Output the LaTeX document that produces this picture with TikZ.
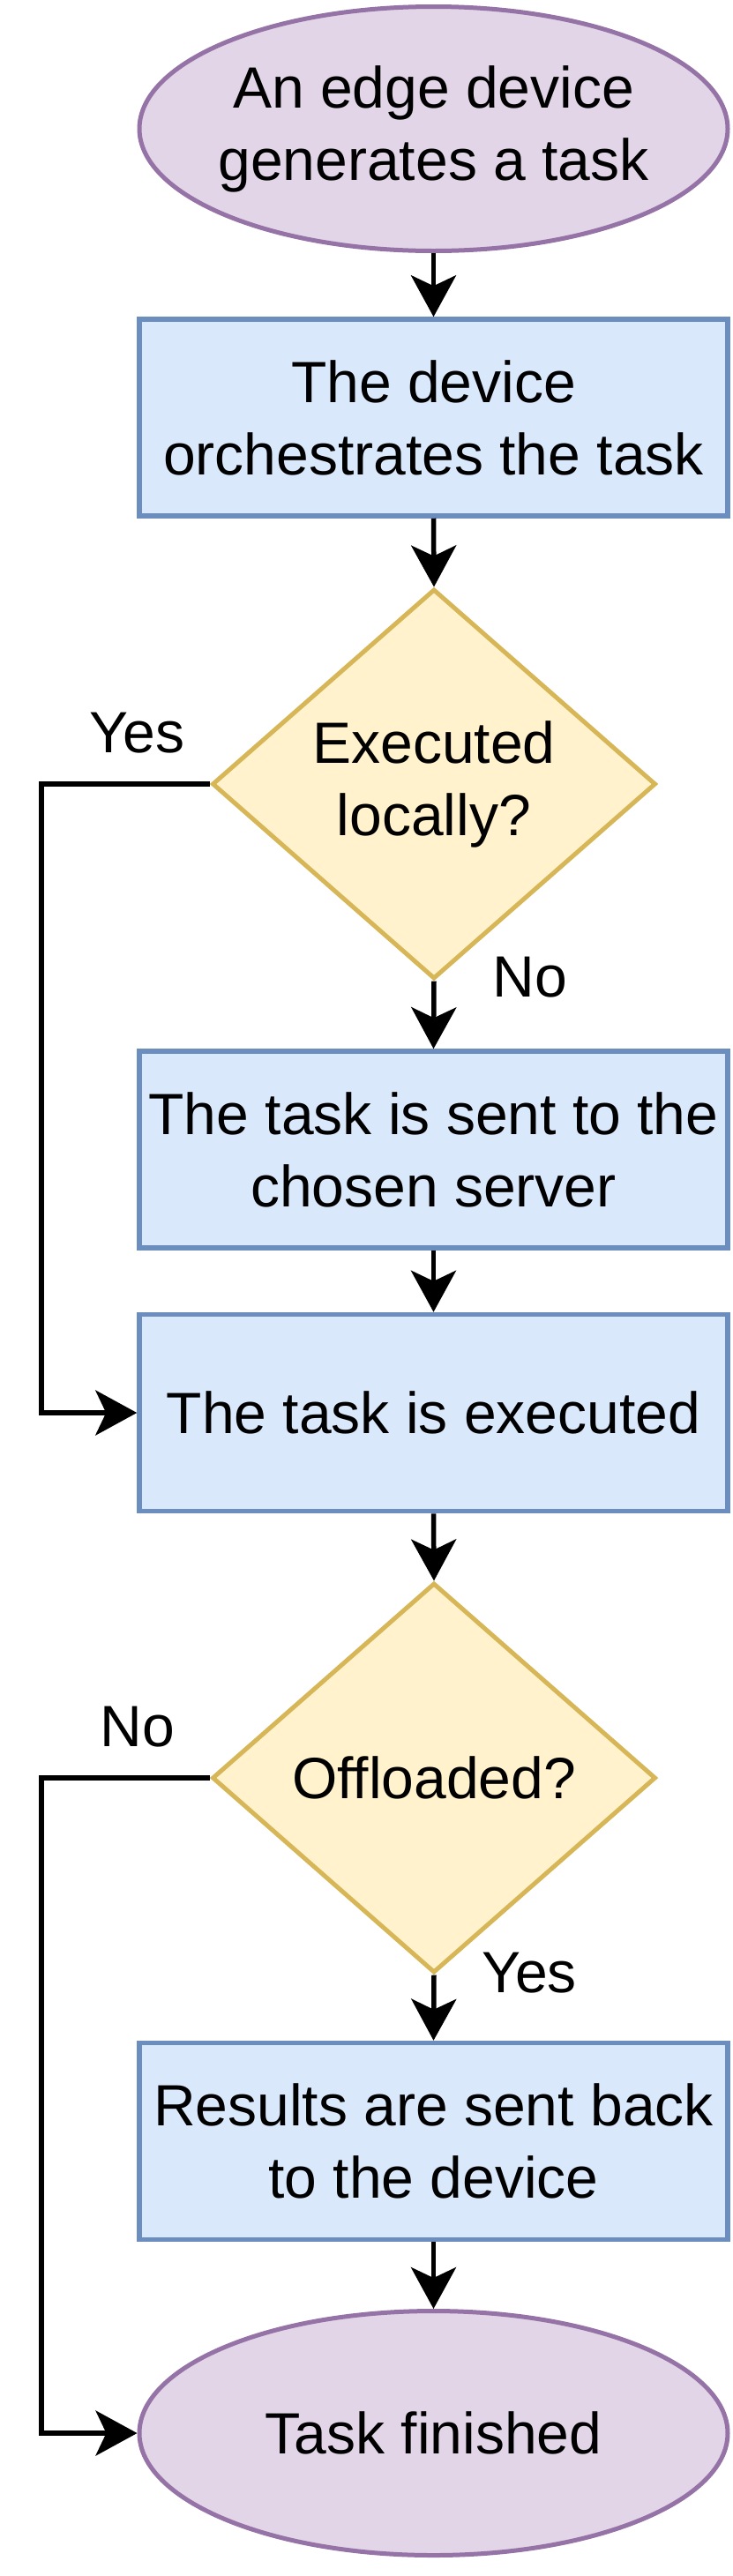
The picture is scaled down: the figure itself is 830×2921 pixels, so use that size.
\documentclass[tikz,border=0pt]{standalone}
\usepackage{fontspec}
\setmainfont{Liberation Sans}
\usetikzlibrary{shapes.geometric,arrows.meta}
\definecolor{pfill}{HTML}{E1D5E7}
\definecolor{pdraw}{HTML}{9673A6}
\definecolor{bfill}{HTML}{DAE8FC}
\definecolor{bdraw}{HTML}{6C8EBF}
\definecolor{yfill}{HTML}{FFF2CC}
\definecolor{ydraw}{HTML}{D6B656}
\newcommand{\zw}[1]{\makebox[0pt][c]{#1}}
\begin{document}
\begin{tikzpicture}[x=1pt,y=-1pt,
  every node/.style={font=\fontsize{66pt}{82pt}\selectfont, inner sep=0pt, align=center},
  term/.style={ellipse, draw=pdraw, fill=pfill, line width=5pt, minimum width=667pt, minimum height=277pt},
  proc/.style={rectangle, draw=bdraw, fill=bfill, line width=5.5pt, minimum width=667pt, minimum height=223pt},
  decis/.style={diamond, draw=ydraw, fill=yfill, line width=5pt, minimum width=503pt, minimum height=442pt},
  conn/.style={line width=5.5pt, -{Stealth[length=47pt,width=51pt,inset=12pt]}},
  lbl/.style={anchor=base}
]
\useasboundingbox (0,0) rectangle (830,2921);
\node[term] (start) at (491.5,146) {\zw{An edge device}\\\zw{generates a task}};
\node[proc] (orch) at (491.5,473.5) {The device\\orchestrates the task};
\node[decis] (d1) at (492,889) {Executed\\locally?};
\node[proc] (send) at (491.5,1303.5) {The task is sent to the\\chosen server};
\node[proc] (exec) at (491.5,1602) {The task is executed};
\node[decis] (d2) at (492,2016) {Offloaded?};
\node[proc] (back) at (491.5,2428) {Results are sent back\\to the device};
\node[term] (fin) at (491.5,2759) {Task finished};

\coordinate (l1) at (47,889);
\coordinate (l2) at (47,1602);
\coordinate (l3) at (47,2016);
\coordinate (l4) at (47,2759);

\draw[conn] (start.south) -- (orch.north);
\draw[conn] (orch.south) -- (d1.north);
\draw[conn] (d1.south) -- (send.north);
\draw[conn] (send.south) -- (exec.north);
\draw[conn] (exec.south) -- (d2.north);
\draw[conn] (d2.south) -- (back.north);
\draw[conn] (back.south) -- (fin.north);
\draw[conn] (d1.west) -- (l1) -- (l2) -- (exec.west);
\draw[conn] (d2.west) -- (l3) -- (l4) -- (fin.west);

\node[lbl] (yes1) at (155.5,853) {Yes};
\node[lbl] (no1) at (601,1130) {No};
\node[lbl] (no2) at (156,1980) {No};
\node[lbl] (yes2) at (600,2259) {Yes};
\end{tikzpicture}
\end{document}
